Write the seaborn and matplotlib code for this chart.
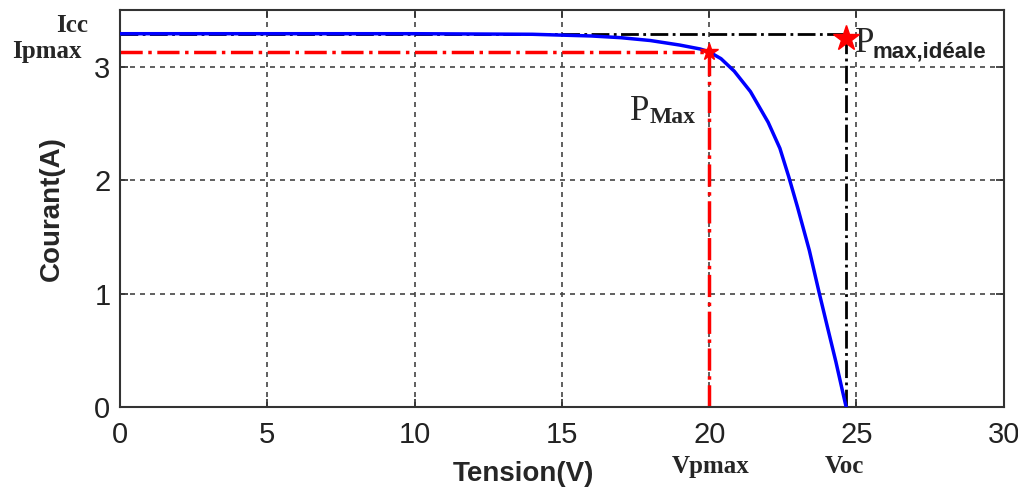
import matplotlib
matplotlib.use("Agg")
import matplotlib.pyplot as plt
import seaborn as sns
import pandas as pd

# ---- data ----
tension = [0, 5, 10, 14, 16, 17, 18, 19, 19.7, 20.0, 20.4, 20.85, 21.4, 22.0, 22.4, 22.7, 23.0, 23.4, 23.74, 24.0, 24.3, 24.5, 24.65]
courant = [3.29, 3.29, 3.29, 3.285, 3.27, 3.255, 3.23, 3.19, 3.155, 3.13, 3.07, 2.96, 2.78, 2.51, 2.28, 2.03, 1.76, 1.38, 1.00, 0.72, 0.40, 0.17, 0.0]
icc = 3.29
ipmax = 3.13
vpmax = 20.0
voc = 24.65
xticks = [0, 5, 10, 15, 20, 25, 30]
yticks = [0, 1, 2, 3]

sns.set_theme(style="ticks")
plt.rcParams['font.family'] = ['Liberation Sans Narrow', 'Liberation Sans', 'DejaVu Sans']

fig = plt.figure(figsize=(10.18, 4.94), dpi=100)
ax = fig.add_axes([0.118, 0.176, 0.868, 0.804])

df = pd.DataFrame({"Tension": tension, "Courant": courant})

# grid
for xv in xticks[1:-1]:
    ax.axvline(xv, color="#444444", ls=(0, (3, 3)), lw=1.2, zorder=0)
for yv in yticks[1:]:
    ax.axhline(yv, color="#444444", ls=(0, (3, 3)), lw=1.2, zorder=0)

# ideal reference lines (black dash-dot)
ax.plot([0, voc], [icc, icc], color="black", ls="-.", lw=2, zorder=2)
ax.plot([voc, voc], [0, icc], color="black", ls="-.", lw=2, zorder=2)
# max power lines (red dash-dot)
ax.plot([0, vpmax], [ipmax, ipmax], color="red", ls="-.", lw=2.5, zorder=2)
ax.plot([vpmax, vpmax], [0, ipmax], color="red", ls="-.", lw=2.5, zorder=2)

sns.lineplot(data=df, x="Tension", y="Courant", ax=ax, color="blue", lw=2.5, zorder=3, sort=False)

ax.plot([vpmax], [ipmax], marker="*", color="red", ms=13, zorder=4)
ax.plot([voc], [icc - 0.04], marker="*", color="red", ms=19, zorder=4)

ax.set_xlim(0, 30)
ax.set_ylim(0, 3.5)
ax.set_xticks(xticks)
ax.set_yticks(yticks)
ax.tick_params(direction="in", top=True, right=True, labelsize=21, length=6, colors="#333333")
ax.tick_params(axis="x", pad=10)
ax.tick_params(axis="y", pad=7)
for lab in ax.get_xticklabels() + ax.get_yticklabels():
    lab.set_color("#222222")
for s in ax.spines.values():
    s.set_linewidth(1.5)
    s.set_color("#333333")

ax.set_xlabel("Tension(V)", fontsize=20, fontweight="bold")
ax.xaxis.set_label_coords(0.456, -0.135)
ax.set_ylabel("Courant(A)", fontsize=20, fontweight="bold")
ax.yaxis.set_label_coords(-0.062, 0.5)

serif = ['Liberation Serif', 'DejaVu Serif']
ax.text(-1.1, icc + 0.07, "Icc", family=serif, fontweight="bold", fontsize=18, ha="right", va="center", clip_on=False)
ax.text(-1.3, ipmax - 0.0, "Ipmax", family=serif, fontweight="bold", fontsize=18, ha="right", va="center", clip_on=False)
ax.text(vpmax + 0.05, -0.52, "Vpmax", family=serif, fontweight="bold", fontsize=18, ha="center", va="center", clip_on=False)
ax.text(voc - 0.05, -0.52, "Voc", family=serif, fontweight="bold", fontsize=18, ha="center", va="center", clip_on=False)

# P_Max label
ax.text(17.3, 2.53, "P", family=serif, fontsize=25, ha="left", va="baseline")
ax.text(17.97, 2.50, "Max", family=serif, fontweight="bold", fontsize=17, ha="left", va="baseline")
# P_max,idéale label
ax.text(24.95, 3.13, "P", family=serif, fontsize=25, ha="left", va="baseline", clip_on=False)
ax.text(25.55, 3.08, "max,idéale", fontweight="bold", fontsize=16, ha="left", va="baseline", color="#222222", clip_on=False)

fig.savefig("out.png", dpi=100)
